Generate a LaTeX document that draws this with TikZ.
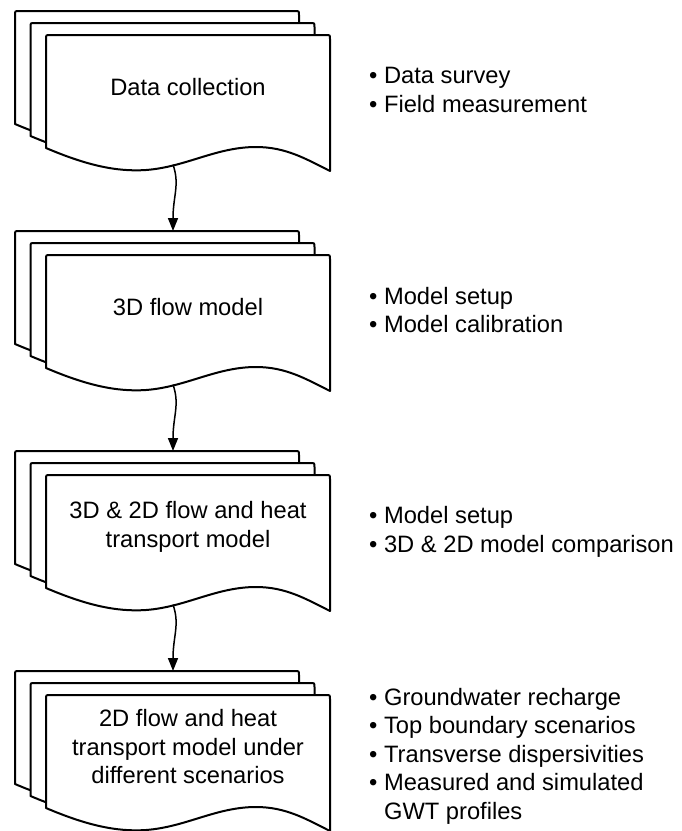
\documentclass[tikz,border=0pt]{standalone}
\usepackage{fontspec}
\setmainfont{Liberation Sans}
\usetikzlibrary{arrows.meta}
\newcommand\sheetshape{%
  \draw[sheet] (0,113) -- (0,4) .. controls (0,0) .. (4,0) -- (280,0)
    .. controls (284,0) .. (284,4) -- (284,136)
    .. controls (260,124) and (240,112) .. (210,112)
    .. controls (170,112) and (140,132) .. (100,135)
    .. controls (70,137) and (40,130) .. (0,113) -- cycle;}
\newcommand\stackshape[1]{%
  \begin{scope}[shift={(15,{11+220*#1})}]\sheetshape\end{scope}
  \begin{scope}[shift={(30.5,{23+220*#1})}]\sheetshape\end{scope}
  \begin{scope}[shift={(46,{35+220*#1})}]\sheetshape\end{scope}}
\begin{document}
\begin{tikzpicture}[x=1pt,y=-1pt,
  sheet/.style={draw=black, line width=2pt, fill=white, line join=round},
  boxtext/.style={align=center, font=\fontsize{23.7}{28.5}\selectfont, inner sep=0pt},
  listtext/.style={align=left, anchor=west, font=\fontsize{23.7}{28.5}\selectfont, inner sep=0pt},
  flow/.style={line width=1.5pt, -{Triangle[length=13pt,width=10pt]}}]
\useasboundingbox[fill=white] (0,0) rectangle (681,831);
\stackshape{0}
\stackshape{1}
\stackshape{2}
\stackshape{3}
% text in boxes
\node[boxtext] (t1) at (188,87) {Data collection};
\node[boxtext] (t2) at (188,307) {3D flow model};
\node[boxtext] (t3) at (188,527) {3D \& 2D flow and heat\\transport model};
\node[boxtext] (t4) at (188,747) {2D flow and heat\\transport model under\\different scenarios};
% lists
\node[listtext] (l1) at (369,90) {• Data survey\\• Field measurement};
\node[listtext] (l2) at (369,310) {• Model setup\\• Model calibration};
\node[listtext] (l3) at (369,532) {• Model setup\\• 3D \& 2D model comparison};
\node[listtext] (l4) at (369,756) {• Groundwater recharge\\• Top boundary scenarios\\• Transverse dispersivities\\• Measured and simulated\\\phantom{• }GWT profiles};
% connector end points
\coordinate (o1) at (173,164.6);
\coordinate (o2) at (173,384.6);
\coordinate (o3) at (173,604.6);
\coordinate (i2) at (173,231);
\coordinate (i3) at (173,451);
\coordinate (i4) at (173,671);
\draw[flow] (o1) .. controls +(7,20) and +(0,-35) .. (i2);
\draw[flow] (o2) .. controls +(7,20) and +(0,-35) .. (i3);
\draw[flow] (o3) .. controls +(7,20) and +(0,-35) .. (i4);
\end{tikzpicture}
\end{document}
